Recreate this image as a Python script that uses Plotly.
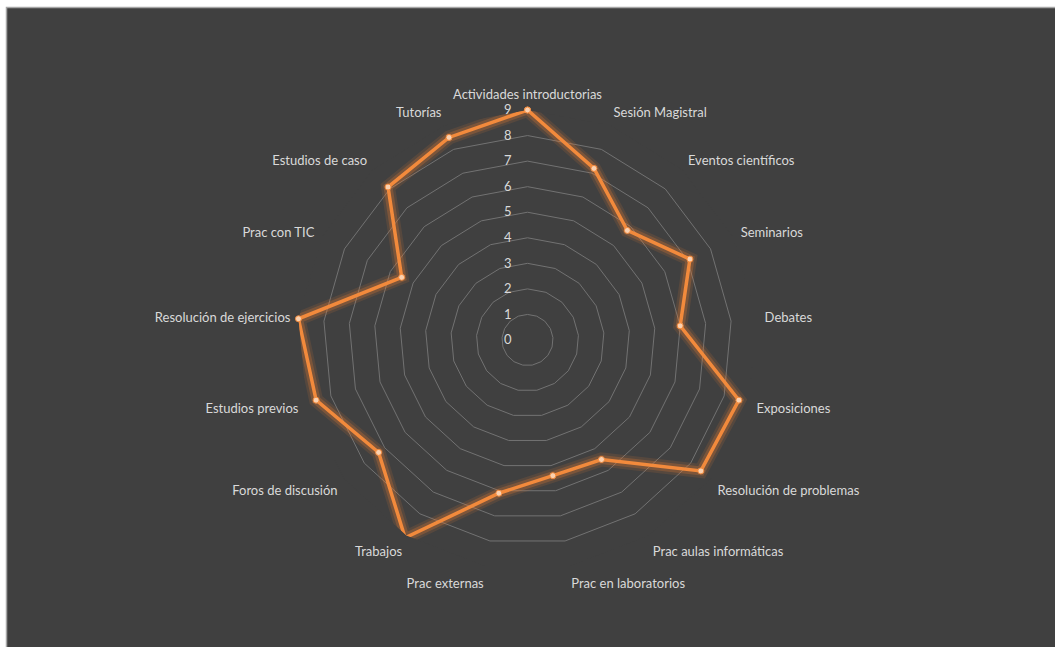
import plotly.graph_objects as go

categories = [
    "Actividades introductorias", "Sesión Magistral", "Eventos científicos",
    "Seminarios", "Debates", "Exposiciones", "Resolución de problemas",
    "Prac aulas informáticas", "Prac en laboratorios", "Prac externas",
    "Trabajos", "Foros de discusión", "Estudios previos",
    "Resolución de ejercicios", "Prac con TIC", "Estudios de caso", "Tutorías",
]
values = [9.0, 7.2, 5.8, 7.1, 6.0, 8.6, 8.5, 5.5, 5.4, 6.1,
          9.1, 7.3, 8.6, 9.0, 5.5, 8.1, 8.5]
radial_ticks = [0, 1, 2, 3, 4, 5, 6, 7, 8, 9]

theta = categories + [categories[0]]
r = values + [values[0]]

ORANGE = "#ED7D31"
fig = go.Figure()
# glow layers
for w, op in [(14, 0.13), (9, 0.25)]:
    fig.add_trace(go.Scatterpolar(r=r, theta=theta, mode="lines",
                                  line=dict(color=ORANGE, width=w),
                                  opacity=op, hoverinfo="skip", showlegend=False))
fig.add_trace(go.Scatterpolar(
    r=r, theta=theta, mode="lines+markers",
    line=dict(color="#F28A3C", width=3.5),
    marker=dict(size=6, color="#FAD1B0", line=dict(color="#F28A3C", width=1)),
    showlegend=False,
))

font_c = "#D9D9D9"
# plot area: x 0..1055 px, y 110..570 px
fig.add_shape(type="rect", xref="paper", yref="paper",
              x0=6.5 / 1055, x1=1.01, y0=-0.2, y1=(570 - 7.5) / 460,
              fillcolor="#404040", line=dict(color="#A6A6A6", width=1.5),
              layer="below")
fig.update_layout(
    width=1055, height=647,
    paper_bgcolor="#FFFFFF",
    margin=dict(l=0, r=0, t=110, b=77),
    font=dict(family="Lato", size=13, color=font_c),
    polar=dict(
        bgcolor="#404040",
        radialaxis=dict(
            range=[0, 9], tickvals=radial_ticks, angle=90, side="counterclockwise",
            showline=False, ticks="outside", ticklen=11, tickcolor="rgba(0,0,0,0)",
            gridcolor="#727272", gridwidth=1,
            tickfont=dict(family="Lato", size=13, color=font_c), tickangle=90,
        ),
        angularaxis=dict(
            rotation=90, direction="clockwise", showgrid=False, showline=False,
            ticks="outside", ticklen=5, tickcolor="rgba(0,0,0,0)",
            tickfont=dict(family="Lato", size=13, color=font_c),
        ),
        gridshape="linear",
    ),
)
fig.write_html("out.html")
